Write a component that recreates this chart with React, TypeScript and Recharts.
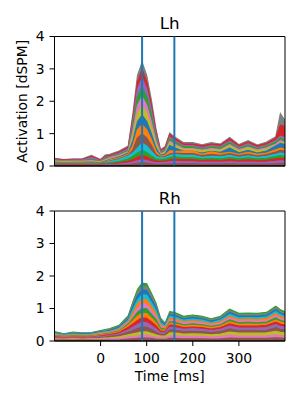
import React from 'react'
import { ComposedChart, Area, XAxis, YAxis, ReferenceLine, ReferenceArea } from 'recharts'

// time samples in ms
const times = [-100, -80, -60, -40, -20, 0, 10, 20, 40, 60, 70, 80, 90, 100, 110, 120, 130, 140, 150, 160, 180, 200, 220, 240, 260, 280, 300, 320, 340, 360, 380, 390, 400]

// Lh source time courses, tallest first
const lhSeries = [
  [.24, .2, .22, .22, .33, .2, .34, .36, .46, .62, 1.6, 2.8, 3.2, 2.8, 2.05, 1.15, .5, .6, 1.02, .9, .72, .72, .65, .72, .68, .88, .66, .78, .65, .74, .9, 1.62, 1.4],
  [.22, .19, .2, .2, .3, .18, .3, .33, .43, .58, 1.49, 2.6, 2.98, 2.6, 1.9, 1.07, .47, .57, .97, .86, .68, .68, .62, .68, .65, .84, .63, .74, .62, .7, .86, 1.26, 1.22],
  [.2, .17, .18, .18, .26, .16, .27, .3, .39, .53, 1.36, 2.38, 2.72, 2.38, 1.74, .98, .43, .53, .9, .79, .63, .63, .57, .63, .6, .77, .58, .69, .57, .65, .79, .92, .88],
  [.18, .15, .16, .16, .2, .14, .24, .27, .36, .48, 1.22, 2.13, 2.43, 2.13, 1.56, .87, .4, .49, .84, .74, .59, .59, .53, .59, .56, .72, .54, .64, .53, .61, .74, .85, .8],
  [.16, .14, .15, .15, .17, .13, .2, .25, .33, .45, 1.07, 1.88, 2.14, 1.88, 1.37, .77, .37, .45, .76, .68, .54, .54, .49, .54, .51, .66, .5, .58, .49, .56, .68, .78, .74],
  [.14, .12, .13, .13, .14, .12, .17, .22, .3, .42, .93, 1.62, 1.86, 1.62, 1.19, .67, .35, .42, .71, .63, .5, .5, .46, .5, .48, .62, .46, .55, .46, .52, .63, .72, .7],
  [.12, .1, .11, .11, .12, .1, .15, .2, .28, .4, .78, 1.37, 1.57, 1.37, 1.0, .56, .33, .37, .63, .56, .45, .45, .4, .45, .42, .55, .41, .48, .4, .46, .62, .7, .66],
  [.1, .09, .1, .1, .1, .09, .13, .18, .25, .36, .64, 1.12, 1.28, 1.12, .82, .46, .3, .33, .47, .46, .45, .46, .36, .44, .38, .42, .36, .42, .36, .4, .5, .55, .52],
  [.09, .08, .08, .08, .09, .08, .11, .15, .22, .33, .5, .87, .99, .87, .64, .36, .27, .29, .37, .4, .38, .38, .32, .36, .33, .38, .32, .37, .31, .35, .43, .48, .46],
  [.08, .07, .07, .07, .08, .07, .1, .14, .2, .31, .4, .55, .7, .62, .45, .3, .25, .26, .32, .35, .33, .33, .27, .3, .28, .33, .27, .31, .27, .3, .36, .4, .38],
  [.06, .06, .06, .06, .06, .06, .08, .1, .14, .22, .3, .4, .48, .42, .31, .22, .2, .21, .26, .28, .26, .26, .22, .24, .22, .26, .22, .25, .22, .24, .29, .32, .3],
  [.05, .05, .05, .05, .05, .05, .06, .07, .1, .15, .2, .27, .32, .28, .21, .16, .15, .16, .19, .21, .2, .2, .17, .18, .17, .2, .17, .19, .17, .18, .22, .24, .23],
  [.03, .03, .03, .03, .03, .03, .04, .05, .06, .09, .12, .16, .19, .17, .13, .1, .1, .11, .13, .14, .13, .13, .11, .12, .11, .13, .11, .12, .11, .12, .14, .16, .15],
  [.02, .02, .02, .02, .02, .02, .02, .02, .03, .04, .06, .08, .1, .09, .07, .05, .05, .06, .07, .07, .07, .07, .06, .06, .06, .07, .06, .06, .06, .06, .07, .08, .08],
]

// Rh source time courses, tallest first
const rhSeries = [
  [.29, .22, .27, .25, .26, .32, .35, .38, .48, .78, 1.2, 1.58, 1.78, 1.76, 1.48, 1.17, .7, .55, .9, .88, .76, .8, .76, .68, .76, .98, .85, .86, .85, .88, 1.07, .96, .9],
  [.27, .21, .25, .24, .25, .3, .33, .36, .45, .74, 1.14, 1.5, 1.69, 1.67, 1.41, 1.11, .66, .52, .85, .83, .72, .76, .72, .65, .72, .93, .81, .82, .81, .84, 1.02, .91, .86],
  [.25, .2, .23, .22, .23, .28, .3, .33, .42, .69, 1.06, 1.39, 1.57, 1.55, 1.3, 1.03, .62, .5, .81, .79, .68, .72, .68, .61, .68, .88, .77, .77, .77, .79, .96, .86, .81],
  [.23, .18, .21, .2, .21, .26, .28, .3, .39, .64, .96, 1.26, 1.42, 1.41, 1.18, .94, .56, .46, .76, .74, .64, .67, .64, .57, .64, .82, .71, .72, .71, .74, .9, .81, .76],
  [.21, .17, .19, .18, .19, .24, .26, .28, .36, .6, .86, 1.14, 1.28, 1.27, 1.07, .84, .5, .43, .7, .69, .59, .62, .59, .53, .59, .76, .66, .67, .66, .69, .83, .75, .7],
  [.19, .15, .17, .16, .17, .22, .24, .26, .33, .56, .77, 1.01, 1.14, 1.13, .95, .75, .45, .4, .65, .63, .55, .58, .55, .49, .55, .71, .61, .62, .61, .63, .77, .69, .65],
  [.17, .14, .16, .15, .16, .2, .22, .24, .31, .52, .7, .88, 1.0, .99, .83, .66, .4, .36, .59, .58, .5, .53, .5, .45, .5, .65, .56, .57, .56, .58, .71, .63, .6],
  [.15, .13, .14, .13, .14, .18, .2, .22, .29, .48, .62, .76, .85, .84, .71, .56, .34, .33, .54, .53, .46, .48, .46, .41, .46, .59, .51, .52, .51, .53, .64, .58, .56],
  [.13, .11, .12, .12, .12, .16, .18, .2, .26, .42, .52, .63, .71, .7, .59, .47, .3, .3, .49, .48, .41, .43, .41, .37, .41, .53, .46, .46, .46, .48, .58, .52, .49],
  [.11, .1, .11, .1, .11, .14, .15, .17, .22, .34, .42, .51, .57, .56, .47, .37, .25, .26, .42, .41, .36, .38, .36, .32, .36, .46, .4, .4, .4, .41, .5, .45, .42],
  [.09, .08, .09, .08, .09, .11, .12, .14, .18, .27, .32, .38, .43, .42, .36, .28, .2, .21, .34, .33, .29, .3, .29, .26, .29, .37, .32, .33, .32, .33, .41, .36, .34],
  [.07, .06, .07, .06, .07, .08, .09, .1, .13, .19, .22, .25, .28, .28, .24, .19, .15, .15, .25, .25, .21, .22, .21, .19, .21, .27, .24, .24, .24, .25, .3, .27, .25],
  [.05, .04, .05, .04, .05, .05, .06, .07, .08, .12, .14, .16, .18, .18, .15, .12, .1, .1, .16, .16, .14, .14, .14, .12, .14, .18, .15, .15, .15, .16, .19, .17, .16],
  [.03, .03, .03, .03, .03, .03, .03, .03, .03, .06, .07, .08, .09, .09, .08, .06, .05, .05, .08, .08, .07, .07, .07, .06, .07, .09, .08, .08, .08, .08, .1, .09, .08],
]

const lhColors = ['#7f7f7f', '#d62728', '#9467bd', '#2ca02c', '#e377c2', '#bcbd22', '#1f77b4', '#ff7f0e', '#8c564b', '#17becf', '#2ca02c', '#d62728', '#9467bd', '#8c564b']
const rhColors = ['#2ca02c', '#7f7f7f', '#1f77b4', '#17becf', '#ff7f0e', '#e377c2', '#2ca02c', '#ff7f0e', '#d62728', '#9467bd', '#8c564b', '#bcbd22', '#e377c2', '#8c564b']

const markerTimes = [90, 160]
const xTicks = [0, 100, 200, 300]
const yTicks = [0, 1, 2, 3, 4]

const font = '"DejaVu Sans", sans-serif'
const tickStyle = { fill: '#000', fontSize: 13.9, fontFamily: font }

const toRows = (series: number[][]) =>
  times.map((t, i) => {
    const row: Record<string, number> = { t }
    series.forEach((s, k) => {
      row['s' + k] = s[i]
    })
    return row
  })

interface PanelProps {
  series: number[][]
  colors: string[]
  top: number
  height: number
  margin: { top: number; right: number; bottom: number; left: number }
  xAxisHeight: number
  bottomPanel: boolean
}

const Panel = ({ series, colors, top, height, margin, xAxisHeight, bottomPanel }: PanelProps) => {
  const data = toRows(series)
  return (
    <div style={{ position: 'absolute', left: 0, top }}>
      <ComposedChart width={300} height={height} data={data} margin={margin}>
        {series.map((_, k) => (
          <Area
            key={k}
            type="linear"
            dataKey={'s' + k}
            stroke={colors[k]}
            strokeWidth={1.2}
            fill={colors[k]}
            fillOpacity={1}
            dot={false}
            activeDot={false}
            isAnimationActive={false}
          />
        ))}
        {markerTimes.map((m) => (
          <ReferenceLine key={m} x={m} stroke="#1f77b4" strokeWidth={2} />
        ))}
        {/* axes frame (top and right spines) */}
        <ReferenceArea x1={-100} x2={400} y1={0} y2={4} fill="none" stroke="#000" strokeWidth={1} ifOverflow="visible" />
        <XAxis
          dataKey="t"
          type="number"
          domain={[-100, 400]}
          ticks={xTicks}
          allowDataOverflow
          height={xAxisHeight}
          stroke="#000"
          tickSize={5}
          tickMargin={7}
          tick={bottomPanel ? tickStyle : false}
          label={
            bottomPanel
              ? { value: 'Time [ms]', position: 'insideBottom', offset: 5, fill: '#000', fontSize: 13.9, fontFamily: font }
              : undefined
          }
        />
        <YAxis
          type="number"
          domain={[0, 4]}
          ticks={yTicks}
          width={54.5}
          stroke="#000"
          tickSize={5}
          tickMargin={5}
          tick={tickStyle}
          label={
            bottomPanel
              ? undefined
              : { value: 'Activation [dSPM]', angle: -90, position: 'center', dx: -5, fill: '#000', fontSize: 13.9, fontFamily: font }
          }
        />
      </ComposedChart>
    </div>
  )
}

const titleStyle = (top: number): React.CSSProperties => ({
  position: 'absolute',
  left: 54.5,
  width: 230.5,
  top,
  textAlign: 'center',
  fontFamily: font,
  fontSize: 16.7,
  lineHeight: '16.7px',
  color: '#000',
})

export default function App() {
  return (
    <div style={{ position: 'absolute', left: 0, top: 0, width: 300, height: 400, background: '#fff' }}>
      <div style={titleStyle(14.7)}>Lh</div>
      <div style={titleStyle(189.7)}>Rh</div>
      <Panel
        series={lhSeries}
        colors={lhColors}
        top={0}
        height={180}
        margin={{ top: 36.5, right: 15, bottom: 4, left: 0 }}
        xAxisHeight={10}
        bottomPanel={false}
      />
      <Panel
        series={rhSeries}
        colors={rhColors}
        top={180}
        height={220}
        margin={{ top: 31, right: 15, bottom: 14, left: 0 }}
        xAxisHeight={45}
        bottomPanel
      />
    </div>
  )
}
